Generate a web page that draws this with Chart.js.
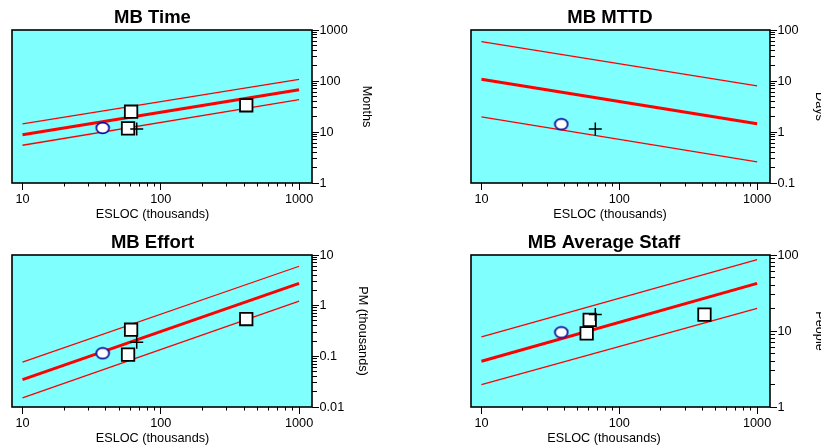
<!DOCTYPE html>
<html>
<head>
<meta charset="utf-8">
<script src="https://cdn.jsdelivr.net/npm/chart.js@4/dist/chart.umd.min.js"></script>
<style>
  html, body { margin: 0; padding: 0; background: #ffffff; }
  body { width: 821px; height: 448px; position: relative; overflow: hidden; }
  canvas { position: absolute; }
</style>
</head>
<body>
<canvas id="cTime"></canvas>
<canvas id="cMttd"></canvas>
<canvas id="cEffort"></canvas>
<canvas id="cStaff"></canvas>
<script>
// ---------- data ----------
const X_LINE = [10, 1000];
const X_SQUARES = [61, 58, 415];
const X_CIRCLE = [38];
const X_PLUS = [67];
const X_TICK_LABELS = [10, 100, 1000];
const X_RANGE = [8.4, 1240];

const TIME_CENTER = [8.85, 67.5];
const TIME_UPPER = [14.4, 108];
const TIME_LOWER = [5.5, 43];
const TIME_SQUARES = [25, 11.8, 33.4];
const TIME_CIRCLE = [12];
const TIME_PLUS = [11.5];
const TIME_Y_LABELS = [1, 10, 100, 1000];

const MTTD_CENTER = [10.8, 1.45];
const MTTD_UPPER = [59, 8.0];
const MTTD_LOWER = [1.97, 0.26];
const MTTD_SQUARES = [];
const MTTD_CIRCLE = [1.42];
const MTTD_PLUS = [1.15];
const MTTD_Y_LABELS = [0.1, 1, 10, 100];

const EFFORT_CENTER = [0.0346, 2.75];
const EFFORT_UPPER = [0.077, 6.0];
const EFFORT_LOWER = [0.0151, 1.23];
const EFFORT_SQUARES = [0.335, 0.108, 0.545];
const EFFORT_CIRCLE = [0.115];
const EFFORT_PLUS = [0.19];
const EFFORT_Y_LABELS = [0.01, 0.1, 1, 10];

const STAFF_CENTER = [4.0, 42.4];
const STAFF_UPPER = [8.4, 86.7];
const STAFF_LOWER = [1.97, 19.9];
const STAFF_SQUARES = [14, 9.3, 16.4];
const STAFF_CIRCLE = [9.6];
const STAFF_PLUS = [16.5];
const STAFF_Y_LABELS = [1, 10, 100];

// ---------- styling ----------
const FONT = "'Liberation Sans', Arial, sans-serif";
const CYAN = '#80FFFF';
const RED = '#FF0000';
const TXT = 12.7;

function pts(xs, ys) { return ys.map((y, i) => ({ x: xs[i], y: y })); }

function withMinors(labels) {
  const out = [];
  for (let i = 0; i < labels.length; i++) {
    out.push(labels[i]);
    if (i < labels.length - 1) {
      for (let k = 2; k <= 9; k++) out.push(parseFloat((k * labels[i]).toPrecision(6)));
    }
  }
  return out;
}

// ellipse marker
const ellipse = document.createElement('canvas');
ellipse.width = 16; ellipse.height = 14;
(function () {
  const c = ellipse.getContext('2d');
  c.beginPath();
  c.ellipse(8, 7, 6.4, 5.4, 0, 0, Math.PI * 2);
  c.fillStyle = '#ffffff';
  c.fill();
  c.lineWidth = 1.7;
  c.strokeStyle = '#0A0A9A';
  c.stroke();
})();

const framePlugin = {
  id: 'frame',
  beforeDraw(chart) {
    const { ctx, chartArea: a } = chart;
    ctx.save();
    ctx.fillStyle = CYAN;
    ctx.fillRect(a.left, a.top, a.right - a.left, a.bottom - a.top);
    ctx.restore();
  },
  afterDraw(chart) {
    const { ctx, chartArea: a } = chart;
    ctx.save();
    ctx.strokeStyle = '#000000';
    ctx.lineWidth = 1.6;
    ctx.strokeRect(a.left, a.top, a.right - a.left, a.bottom - a.top);
    ctx.restore();
  }
};

function makePanel(p) {
  const el = document.getElementById(p.id);
  el.width = p.w; el.height = 224;
  el.style.left = p.left + 'px';
  el.style.top = p.top + 'px';
  el.style.width = p.w + 'px';
  el.style.height = '224px';

  const xTicks = withMinors(X_TICK_LABELS);
  const yTicks = withMinors(p.yLabels);
  const ax = { xAxisID: 'x', yAxisID: 'y' };

  const datasets = [
    Object.assign({ label: 'plus', data: pts(X_PLUS, p.plus), pointStyle: 'cross', pointRadius: 6.5,
      borderColor: '#000', borderWidth: 1.5, backgroundColor: '#000' }, ax),
    Object.assign({ label: 'circle', data: pts(X_CIRCLE, p.circle), pointStyle: ellipse, pointRadius: 7 }, ax),
    Object.assign({ label: 'squares', data: pts(X_SQUARES, p.squares), pointStyle: 'rect', pointRadius: 8.8,
      backgroundColor: '#ffffff', borderColor: '#000', borderWidth: 1.8 }, ax),
    Object.assign({ label: 'center', data: pts(X_LINE, p.center), showLine: true, pointRadius: 0,
      borderColor: RED, borderWidth: 3, fill: false }, ax),
    Object.assign({ label: 'upper', data: pts(X_LINE, p.upper), showLine: true, pointRadius: 0,
      borderColor: RED, borderWidth: 1.3, fill: false }, ax),
    Object.assign({ label: 'lower', data: pts(X_LINE, p.lower), showLine: true, pointRadius: 0,
      borderColor: RED, borderWidth: 1.3, fill: false }, ax)
  ];

  new Chart(el, {
    type: 'scatter',
    data: { datasets },
    plugins: [framePlugin],
    options: {
      responsive: false,
      animation: false,
      devicePixelRatio: 1,
      layout: { padding: 0 },
      plugins: {
        legend: { display: false },
        tooltip: { enabled: false },
        title: {
          display: true, text: p.title, color: '#000',
          font: { family: FONT, size: 18.5, weight: 'bold' },
          padding: { top: p.titleTop, bottom: 1.3 }
        },
        subtitle: {
          display: true, position: 'bottom', text: 'ESLOC (thousands)', color: '#000',
          font: { family: FONT, size: TXT, weight: 'normal' },
          padding: { top: 0, bottom: 1.76 }
        }
      },
      scales: {
        pad: {
          axis: 'y', type: 'linear', position: 'left', display: true,
          grid: { display: false }, border: { display: false },
          ticks: { display: false }, title: { display: false },
          afterFit(s) { s.width = p.padW; }
        },
        x: {
          type: 'logarithmic', position: 'bottom',
          min: X_RANGE[0], max: X_RANGE[1],
          afterBuildTicks(s) { s.ticks = xTicks.map(v => ({ value: v })); },
          afterFit(s) { s.height = 24; },
          border: { display: false },
          grid: {
            drawOnChartArea: false, drawTicks: true, tickLength: 7,
            tickColor: '#000', tickWidth: 1,
            tickBorderDash: c => (c.tick && X_TICK_LABELS.includes(c.tick.value)) ? [] : [3.5, 40]
          },
          ticks: {
            autoSkip: false, maxRotation: 0, minRotation: 0, padding: 1.6,
            color: '#000', font: { family: FONT, size: TXT },
            callback: v => X_TICK_LABELS.includes(v) ? String(v) : ''
          }
        },
        y: {
          type: 'logarithmic', position: 'right',
          min: p.yLabels[0], max: p.yLabels[p.yLabels.length - 1],
          afterBuildTicks(s) { s.ticks = yTicks.map(v => ({ value: v })); },
          afterFit(s) { s.width = 62; },
          border: { display: false },
          grid: {
            drawOnChartArea: false, drawTicks: true, tickLength: 7,
            tickColor: '#000', tickWidth: 1,
            tickBorderDash: c => (c.tick && p.yLabels.includes(c.tick.value)) ? [] : [5, 40]
          },
          ticks: {
            autoSkip: false, padding: 0.5,
            color: '#000', font: { family: FONT, size: TXT },
            callback: v => p.yLabels.includes(v) ? String(v) : ''
          },
          title: {
            display: true, text: p.yTitle, color: '#000',
            font: { family: FONT, size: TXT },
            padding: { top: p.yTitlePad, bottom: 0 }
          }
        }
      }
    }
  });
}

makePanel({ id: 'cTime', title: 'MB Time', yTitle: 'Months', left: -69, top: 0, w: 443, padW: 81,
  titleTop: 6.5, yTitlePad: 0.3, yLabels: TIME_Y_LABELS,
  center: TIME_CENTER, upper: TIME_UPPER, lower: TIME_LOWER,
  squares: TIME_SQUARES, circle: TIME_CIRCLE, plus: TIME_PLUS });

makePanel({ id: 'cMttd', title: 'MB MTTD', yTitle: 'Days', left: 388, top: 0, w: 444, padW: 83,
  titleTop: 6.5, yTitlePad: 5, yLabels: MTTD_Y_LABELS,
  center: MTTD_CENTER, upper: MTTD_UPPER, lower: MTTD_LOWER,
  squares: MTTD_SQUARES, circle: MTTD_CIRCLE, plus: MTTD_PLUS });

makePanel({ id: 'cEffort', title: 'MB Effort', yTitle: 'PM (thousands)', left: -69, top: 224, w: 443, padW: 81,
  titleTop: 7.5, yTitlePad: 3.7, yLabels: EFFORT_Y_LABELS,
  center: EFFORT_CENTER, upper: EFFORT_UPPER, lower: EFFORT_LOWER,
  squares: EFFORT_SQUARES, circle: EFFORT_CIRCLE, plus: EFFORT_PLUS });

makePanel({ id: 'cStaff', title: 'MB Average Staff', yTitle: 'People', left: 376, top: 224, w: 456, padW: 95,
  titleTop: 7.5, yTitlePad: 5, yLabels: STAFF_Y_LABELS,
  center: STAFF_CENTER, upper: STAFF_UPPER, lower: STAFF_LOWER,
  squares: STAFF_SQUARES, circle: STAFF_CIRCLE, plus: STAFF_PLUS });
</script>
</body>
</html>
